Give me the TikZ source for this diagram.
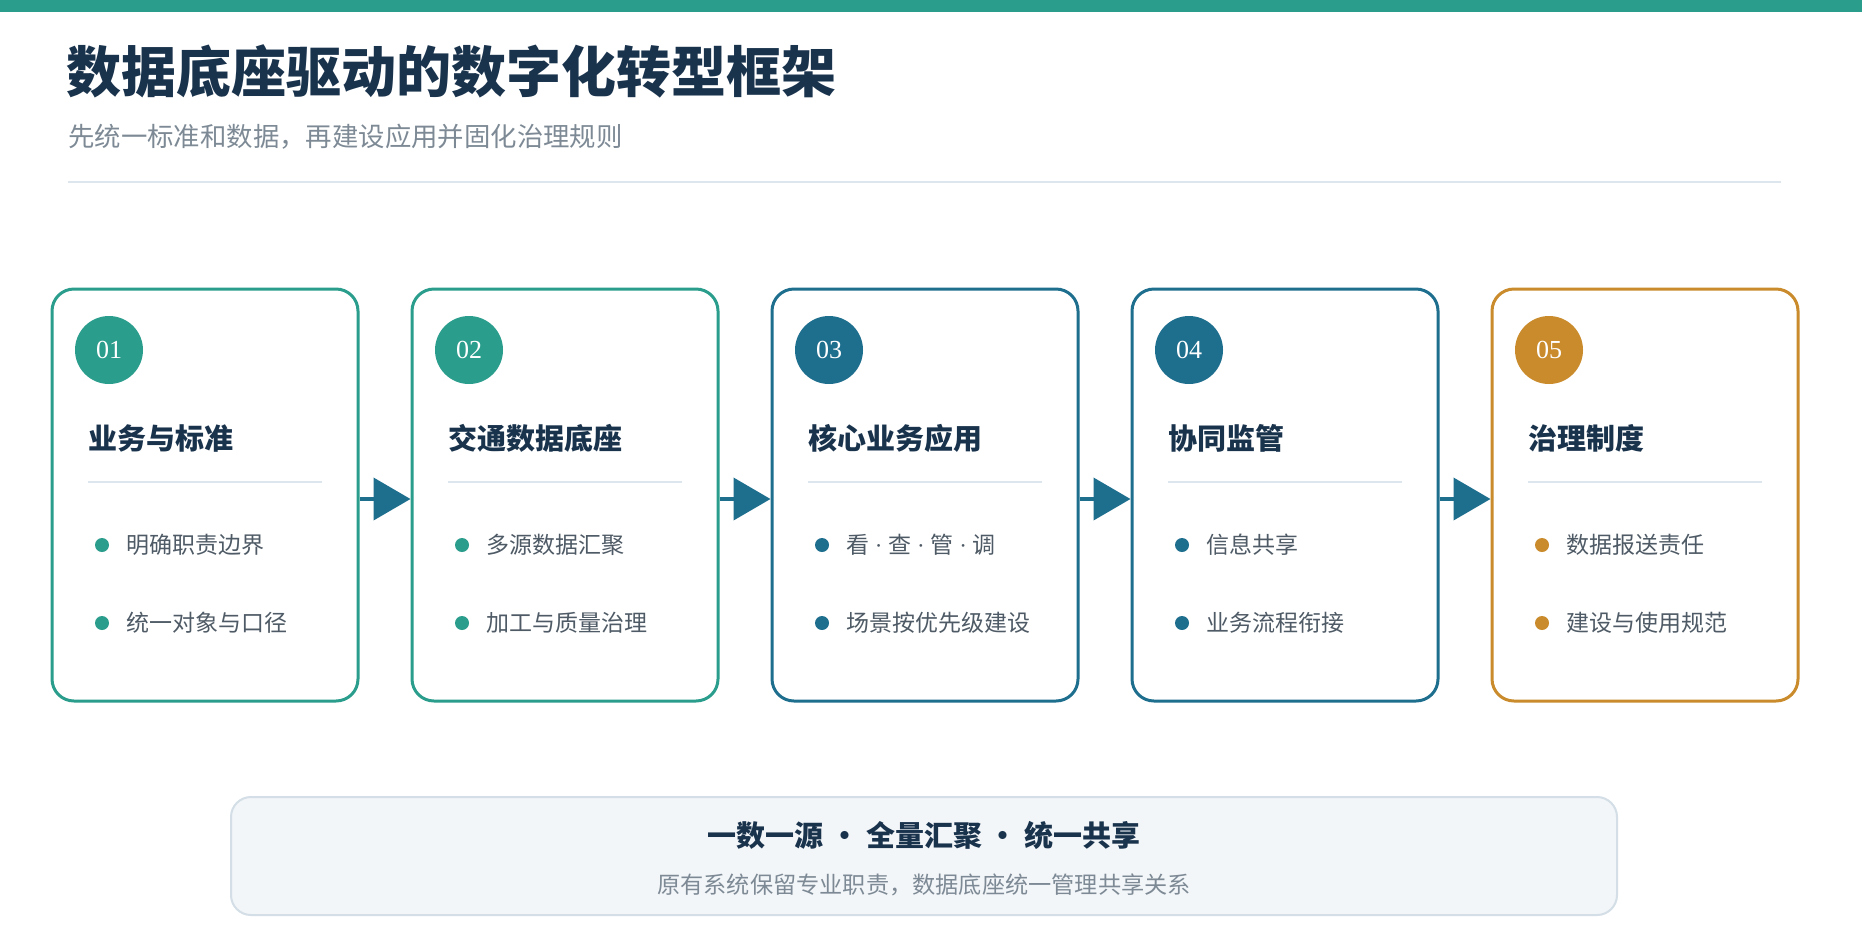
\documentclass[tikz,border=0pt]{standalone}
\usepackage{fontspec}
\setmainfont{Liberation Serif}
\newfontfamily\cjk{Noto Sans CJK SC}
\usetikzlibrary{arrows.meta}
\definecolor{cTeal}{HTML}{2A9D8C}
\definecolor{cBlue}{HTML}{1E6E8E}
\definecolor{cGold}{HTML}{C98B2B}
\definecolor{cNavy}{HTML}{1A334D}
\definecolor{cGray}{HTML}{7D8A95}
\definecolor{cText}{HTML}{4E5A65}
\definecolor{cSep}{HTML}{DDE6EC}
\definecolor{cPanel}{HTML}{F3F6F9}
\definecolor{cPanelLine}{HTML}{D3DEE6}
\tikzset{
  cardbox/.style={draw, line width=3pt, rounded corners=22pt, fill=white,
    minimum width=306pt, minimum height=412pt, inner sep=0pt},
  numdot/.style={circle, minimum size=68pt, inner sep=0pt, text=white,
    font=\fontsize{26}{26}\selectfont},
  cardtitle/.style={anchor=west, inner sep=0pt, text=cNavy,
    font=\cjk\bfseries\fontsize{29}{32}\selectfont},
  sepline/.style={draw=cSep, line width=2pt},
  bdot/.style={circle, minimum size=14pt, inner sep=0pt},
  btext/.style={anchor=west, inner sep=0pt, text=cText,
    font=\cjk\fontsize{23}{26}\selectfont},
  flowarrow/.style={draw=cBlue, line width=4pt,
    -{Triangle[length=37pt,width=42pt]}},
}
\newcommand\mydot{{\rmfamily\ ·\ }}
\newcommand\stagecard[7]{%
  \node[cardbox, draw=#3] (c#1) at ({#2+154},495) {};
  \node[numdot, fill=#3] (n#1) at ({#2+58},350) {#4};
  \node[cardtitle] (t#1) at ({#2+37},438) {#5};
  \draw[sepline] ({#2+37},482) -- ({#2+271},482);
  \node[bdot, fill=#3] (d#1a) at ({#2+51},545) {};
  \node[btext] (b#1a) at ({#2+75},545) {#6};
  \node[bdot, fill=#3] (d#1b) at ({#2+51},623) {};
  \node[btext] (b#1b) at ({#2+75},623) {#7};
}
\begin{document}
\begin{tikzpicture}[x=1pt,y=-1pt]
\useasboundingbox (0,0) rectangle (1862,938);
\fill[white] (0,0) rectangle (1862,938);
\fill[cTeal] (0,0) rectangle (1862,12);
\node[anchor=west, inner sep=0pt, text=cNavy, font=\cjk\bfseries\fontsize{55}{60}\selectfont] (title) at (66,71) {数据底座驱动的数字化转型框架};
\node[anchor=west, inner sep=0pt, text=cGray, font=\cjk\fontsize{26.4}{30}\selectfont] (subtitle) at (68,137) {先统一标准和数据，再建设应用并固化治理规则};
\draw[draw=cSep, line width=2pt] (68,182) -- (1781,182);

\stagecard{1}{51}{cTeal}{01}{业务与标准}{明确职责边界}{统一对象与口径}
\stagecard{2}{411}{cTeal}{02}{交通数据底座}{多源数据汇聚}{加工与质量治理}
\stagecard{3}{771}{cBlue}{03}{核心业务应用}{看\mydot 查\mydot 管\mydot 调}{场景按优先级建设}
\stagecard{4}{1131}{cBlue}{04}{协同监管}{信息共享}{业务流程衔接}
\stagecard{5}{1491}{cGold}{05}{治理制度}{数据报送责任}{建设与使用规范}

\draw[flowarrow] ([yshift=-4pt]c1.east) -- ([yshift=-4pt]c2.west);
\draw[flowarrow] ([yshift=-4pt]c2.east) -- ([yshift=-4pt]c3.west);
\draw[flowarrow] ([yshift=-4pt]c3.east) -- ([yshift=-4pt]c4.west);
\draw[flowarrow] ([yshift=-4pt]c4.east) -- ([yshift=-4pt]c5.west);

\node[draw=cPanelLine, fill=cPanel, line width=2pt, rounded corners=20pt,
  minimum width=1386pt, minimum height=118pt, inner sep=0pt] (panel) at (924,856) {};
\node[inner sep=0pt, text=cNavy, font=\cjk\bfseries\fontsize{29}{32}\selectfont] (ptitle) at (924,835) {一数一源 · 全量汇聚 · 统一共享};
\node[inner sep=0pt, text=cGray, font=\cjk\fontsize{23.2}{26}\selectfont] (psub) at (924,885) {原有系统保留专业职责，数据底座统一管理共享关系};
\end{tikzpicture}
\end{document}
